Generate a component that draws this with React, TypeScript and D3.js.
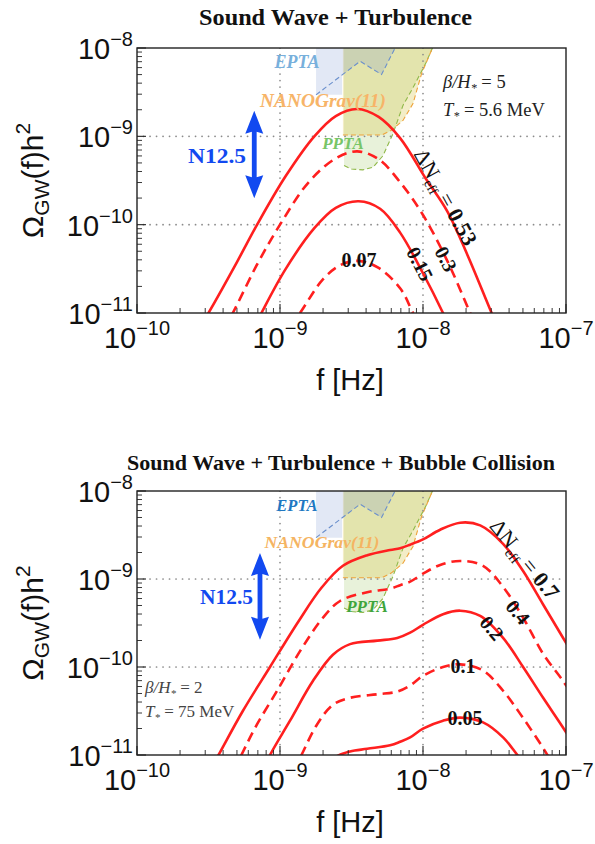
import React from "react";
import * as d3 from "d3";

const SANS = "'Liberation Sans', Arial, Helvetica, sans-serif";
const SERIF = "'Liberation Serif', 'Times New Roman', Times, serif";
const RED = "#ff1f1f";

// axes
const xDecades = [-10, -9, -8, -7];
const yDecades = [-11, -10, -9, -8];
const xTickExp = ["\u221210", "\u22129", "\u22128", "\u22127"];
const yTickExp = ["\u221211", "\u221210", "\u22129", "\u22128"];
const gridF = [-9, -8];
const gridOmega = [-10, -9];

// ---- top panel: Sound Wave + Turbulence  [log10 f, log10 Omega h^2]
const swtN053 = [[-9.70,-11.55],[-9.50,-11.0],[-9.30,-10.42],[-9.16,-10.0],[-8.96,-9.45],[-8.76,-9.0],[-8.61,-8.77],[-8.46,-8.69],[-8.31,-8.78],[-8.16,-9.02],[-7.98,-9.48],[-7.83,-9.85],[-7.69,-10.34],[-7.52,-11.0],[-7.40,-11.45]];
const swtN030 = [[-9.50,-11.5],[-9.33,-11.0],[-9.16,-10.45],[-9.0,-10.0],[-8.80,-9.52],[-8.61,-9.25],[-8.46,-9.17],[-8.31,-9.26],[-8.16,-9.52],[-8.0,-9.89],[-7.83,-10.41],[-7.67,-11.0],[-7.55,-11.45]];
const swtN015 = [[-9.30,-11.55],[-9.13,-11.0],[-8.96,-10.5],[-8.76,-10.04],[-8.61,-9.81],[-8.45,-9.735],[-8.30,-9.82],[-8.16,-10.09],[-8.0,-10.55],[-7.86,-11.0],[-7.72,-11.5]];
const swtN007 = [[-9.05,-11.45],[-8.86,-11.0],[-8.70,-10.62],[-8.58,-10.46],[-8.45,-10.41],[-8.31,-10.49],[-8.16,-10.72],[-8.07,-11.0],[-7.93,-11.5]];

// ---- bottom panel: Sound Wave + Turbulence + Bubble Collision
const swtbN07 = [[-9.60,-11.5],[-9.43,-11.0],[-9.26,-10.5],[-9.07,-10.0],[-8.87,-9.48],[-8.71,-9.10],[-8.56,-8.85],[-8.39,-8.73],[-8.23,-8.67],[-8.16,-8.65],[-8.09,-8.61],[-8.0,-8.55],[-7.88,-8.44],[-7.74,-8.36],[-7.60,-8.39],[-7.44,-8.60],[-7.30,-8.91],[-7.16,-9.29],[-7.02,-9.67],[-6.90,-10.0]];
const swtbN04 = [[-9.42,-11.5],[-9.27,-11.0],[-9.16,-10.65],[-9.02,-10.27],[-8.86,-9.82],[-8.70,-9.44],[-8.58,-9.25],[-8.39,-9.15],[-8.23,-9.11],[-8.16,-9.07],[-8.09,-9.03],[-8.0,-8.94],[-7.88,-8.84],[-7.74,-8.795],[-7.58,-8.85],[-7.44,-9.09],[-7.30,-9.44],[-7.16,-9.85],[-7.02,-10.16],[-6.90,-10.45]];
const swtbN02 = [[-9.22,-11.5],[-9.07,-11.0],[-8.93,-10.61],[-8.77,-10.16],[-8.63,-9.86],[-8.51,-9.74],[-8.32,-9.70],[-8.18,-9.67],[-8.09,-9.61],[-8.0,-9.52],[-7.86,-9.40],[-7.74,-9.36],[-7.60,-9.42],[-7.44,-9.67],[-7.30,-10.0],[-7.16,-10.35],[-7.02,-10.69],[-6.90,-11.0]];
const swtbN01 = [[-9.0,-11.5],[-8.85,-11.0],[-8.74,-10.65],[-8.63,-10.43],[-8.51,-10.35],[-8.32,-10.31],[-8.18,-10.28],[-8.09,-10.21],[-8.0,-10.10],[-7.86,-10.0],[-7.74,-9.97],[-7.58,-10.04],[-7.44,-10.27],[-7.30,-10.58],[-7.16,-10.92],[-7.13,-11.0],[-7.0,-11.35]];
const swtbN005 = [[-8.85,-11.6],[-8.74,-11.25],[-8.63,-11.04],[-8.51,-10.96],[-8.39,-10.93],[-8.23,-10.89],[-8.16,-10.85],[-8.09,-10.80],[-8.0,-10.70],[-7.86,-10.61],[-7.74,-10.575],[-7.58,-10.63],[-7.44,-10.80],[-7.34,-11.0],[-7.2,-11.3]];

// ---- PTA regions [log10 f, log10 Omega h^2]
const eptaRegion = [[-8.748,-7.5],[-8.748,-8.53],[-8.566,-8.53],[-8.566,-8.31],[-8.44,-8.15],[-8.29,-8.30],[-8.17,-7.92],[-8.15,-7.5]];
const eptaEdge = [[-8.748,-8.53],[-8.44,-8.15],[-8.29,-8.30],[-8.17,-7.92],[-8.15,-7.8]];
const nanoRegion = [[-8.56,-7.5],[-8.56,-8.985],[-8.287,-8.985],[-8.22,-8.93],[-8.14,-8.82],[-8.07,-8.63],[-8.01,-8.29],[-7.96,-8.1],[-7.92,-7.95],[-7.90,-7.5]];
const nanoEdge = [[-8.56,-8.985],[-8.287,-8.985],[-8.22,-8.93],[-8.14,-8.82],[-8.07,-8.63],[-8.01,-8.29],[-7.96,-8.1],[-7.92,-7.95],[-7.90,-7.8]];
const pptaRegion = [[-8.552,-7.5],[-8.552,-9.33],[-8.50,-9.37],[-8.42,-9.38],[-8.35,-9.35],[-8.28,-9.22],[-8.21,-8.97],[-8.14,-8.65],[-8.07,-8.45],[-7.98,-8.17],[-7.92,-7.95],[-7.90,-7.5]];
const pptaEdge = [[-8.552,-9.33],[-8.50,-9.37],[-8.42,-9.38],[-8.35,-9.35],[-8.28,-9.22],[-8.21,-8.97],[-8.14,-8.65],[-8.07,-8.45],[-7.98,-8.17],[-7.92,-7.95],[-7.90,-7.8]];

// NANOGrav 12.5 yr amplitude range arrow [log10 f, log10 Omega hi, log10 Omega lo]
const n125Top = [-9.18, -8.71, -9.70];
const n125Bottom = [-9.14, -8.705, -9.69];

const LEFT = 137;
const RIGHT = 566;

const xScale = d3.scaleLog().domain([1e-10, 1e-7]).range([LEFT, RIGHT]);

type CurveDef = { pts: number[][]; dashed: boolean };

function Panel(props: {
  id: string;
  top: number;
  bottom: number;
  curves: CurveDef[];
  arrow: number[];
  pta: { epta: string; nano: string; ppta: string };
  children?: React.ReactNode;
}) {
  const { id, top, bottom, curves, arrow } = props;
  const x = xScale;
  const y = d3.scaleLog().domain([1e-11, 1e-8]).range([bottom, top]);
  const P = (v: number) => Math.pow(10, v);
  const smooth = d3
    .line<number[]>()
    .x((d) => x(P(d[0])))
    .y((d) => y(P(d[1])))
    .curve(d3.curveCatmullRom.alpha(0.5));
  const lin = d3
    .line<number[]>()
    .x((d) => x(P(d[0])))
    .y((d) => y(P(d[1])));

  const minorX: number[] = [];
  [-10, -9, -8].forEach((d) => {
    for (let k = 2; k <= 9; k++) minorX.push(k * Math.pow(10, d));
  });
  const minorY: number[] = [];
  [-11, -10, -9].forEach((d) => {
    for (let k = 2; k <= 9; k++) minorY.push(k * Math.pow(10, d));
  });

  const ax = x(P(arrow[0]));
  const ayTop = y(P(arrow[1]));
  const ayBot = y(P(arrow[2]));
  const headL = 23;
  const headW = 9;
  const shaftW = 2.4;
  const arrowPath =
    `M${ax},${ayTop} L${ax + headW},${ayTop + headL} L${ax + shaftW},${ayTop + headL - 2} ` +
    `L${ax + shaftW},${ayBot - headL + 2} L${ax + headW},${ayBot - headL} L${ax},${ayBot} ` +
    `L${ax - headW},${ayBot - headL} L${ax - shaftW},${ayBot - headL + 2} L${ax - shaftW},${ayTop + headL - 2} ` +
    `L${ax - headW},${ayTop + headL} Z`;

  return (
    <g>
      <defs>
        <clipPath id={id}>
          <rect x={LEFT} y={top} width={RIGHT - LEFT} height={bottom - top} />
        </clipPath>
      </defs>
      <g clipPath={`url(#${id})`}>
        <path d={lin(pptaRegion)! + "Z"} fill="rgba(140,190,70,0.2)" />
        <path d={lin(nanoRegion)! + "Z"} fill="rgba(215,195,70,0.3)" />
        <path d={lin(eptaRegion)! + "Z"} fill="rgba(110,140,205,0.2)" />
        <path d={lin(pptaEdge)!} fill="none" stroke="#8fb848" strokeWidth={1.1} strokeDasharray="5,3" />
        <path d={lin(nanoEdge)!} fill="none" stroke="#eea33a" strokeWidth={1.1} strokeDasharray="5,3" />
        <path d={lin(eptaEdge)!} fill="none" stroke="#6a8fcc" strokeWidth={1.1} strokeDasharray="5,3" />
        {gridF.map((g) => (
          <line key={"gx" + g} x1={x(P(g))} x2={x(P(g))} y1={top} y2={bottom}
            stroke="#8a8a8a" strokeWidth={1.7} strokeDasharray="0.1,6.4" strokeLinecap="round" />
        ))}
        {gridOmega.map((g) => (
          <line key={"gy" + g} x1={LEFT} x2={RIGHT} y1={y(P(g))} y2={y(P(g))}
            stroke="#8a8a8a" strokeWidth={1.7} strokeDasharray="0.1,6.4" strokeLinecap="round" />
        ))}
        {curves.map((c, i) => (
          <path key={i} d={smooth(c.pts)!} fill="none" stroke={RED} strokeWidth={2.6}
            strokeDasharray={c.dashed ? "10,6" : undefined} />
        ))}
      </g>
      <text x={297} y={top + 20} textAnchor="middle" fontFamily={SERIF} fontWeight="bold"
        fontStyle="italic" fontSize={id === "cA" ? 18 : 16.5} fill={props.pta.epta}>EPTA</text>
      <text x={id === "cA" ? 323 : 322} y={id === "cA" ? 107 : 548} textAnchor="middle" fontFamily={SERIF}
        fontWeight="bold" fontStyle="italic" fontSize={id === "cA" ? 19 : 17.5}
        textLength={id === "cA" ? 126 : 115} lengthAdjust="spacingAndGlyphs" fill={props.pta.nano}>NANOGrav(11)</text>
      <text x={id === "cA" ? 343 : 367} y={id === "cA" ? 149 : 612} textAnchor="middle" fontFamily={SERIF}
        fontWeight="bold" fontStyle="italic" fontSize={17} fill={props.pta.ppta}>PPTA</text>
      <path d={arrowPath} fill="#1249f0" />
      <rect x={LEFT} y={top} width={RIGHT - LEFT} height={bottom - top} fill="none" stroke="#222" strokeWidth={1.4} />
      {xDecades.map((d) => (
        <line key={"tx" + d} x1={x(P(d))} x2={x(P(d))} y1={bottom} y2={bottom - 9} stroke="#222" strokeWidth={1.1} />
      ))}
      {minorX.map((v, i) => (
        <line key={"mx" + i} x1={x(v)} x2={x(v)} y1={bottom} y2={bottom - 5} stroke="#222" strokeWidth={0.9} />
      ))}
      {yDecades.map((d) => (
        <line key={"ty" + d} x1={LEFT} x2={LEFT + 9} y1={y(P(d))} y2={y(P(d))} stroke="#222" strokeWidth={1.1} />
      ))}
      {minorY.map((v, i) => (
        <line key={"my" + i} x1={LEFT} x2={LEFT + 5} y1={y(v)} y2={y(v)} stroke="#222" strokeWidth={0.9} />
      ))}
      {xDecades.map((d, i) => (
        <text key={"lx" + d} x={x(P(d))} y={bottom + 35} textAnchor="middle" fontFamily={SANS} fontSize={29} fill="#111">
          10<tspan fontSize={20} dy={-13}>{xTickExp[i]}</tspan>
        </text>
      ))}
      {yDecades.map((d, i) => (
        <text key={"ly" + d} x={133} y={y(P(d)) + 11} textAnchor="end" fontFamily={SANS} fontSize={29} fill="#111">
          10<tspan fontSize={20} dy={-13}>{yTickExp[i]}</tspan>
        </text>
      ))}
      <text transform={`translate(43,${(top + bottom) / 2}) rotate(-90)`} textAnchor="middle" fontFamily={SANS}
        fontSize={30} fill="#111">
        {"\u03A9"}<tspan fontSize={21} dy={6}>GW</tspan><tspan dy={-6}>(f)h</tspan><tspan fontSize={21} dy={-13}>2</tspan>
      </text>
      <text x={350} y={bottom + 77} textAnchor="middle" fontFamily={SANS} fontSize={29} fill="#111">f [Hz]</text>
      {props.children}
    </g>
  );
}

function DLabel(props: { x: number; y: number; rot: number; value: string; full?: boolean; size?: number }) {
  const fs = props.size || 20;
  return (
    <text transform={`translate(${props.x},${props.y}) rotate(${props.rot})`} textAnchor="middle" dy="0.35em"
      fontFamily={SERIF} fontSize={fs} fill="#111">
      {props.full ? (
        <>
          {"\u0394N"}
          <tspan fontSize={fs * 0.62} dy={5}>eff</tspan>
          <tspan dy={-5}>{" = "}</tspan>
          <tspan fontWeight="bold">{props.value}</tspan>
        </>
      ) : (
        <tspan fontWeight="bold">{props.value}</tspan>
      )}
    </text>
  );
}

export default function App() {
  const topCurves: CurveDef[] = [
    { pts: swtN053, dashed: false },
    { pts: swtN030, dashed: true },
    { pts: swtN015, dashed: false },
    { pts: swtN007, dashed: true },
  ];
  const botCurves: CurveDef[] = [
    { pts: swtbN07, dashed: false },
    { pts: swtbN04, dashed: true },
    { pts: swtbN02, dashed: false },
    { pts: swtbN01, dashed: true },
    { pts: swtbN005, dashed: false },
  ];
  return (
    <svg width={595} height={844} viewBox="0 0 595 844" style={{ position: "absolute", left: 0, top: 0, background: "#fff" }}>
      <rect x={0} y={0} width={595} height={844} fill="#fff" />
      <text x={335.5} y={25} textAnchor="middle" fontFamily={SERIF} fontWeight="bold" fontSize={24}
        textLength={273} lengthAdjust="spacingAndGlyphs" fill="#111">Sound Wave + Turbulence</text>
      <Panel id="cA" top={48} bottom={313} curves={topCurves} arrow={n125Top}
        pta={{ epta: "#78b0dc", nano: "#f7b468", ppta: "#78c568" }}>
        <text x={217} y={163} textAnchor="middle" fontFamily={SERIF} fontWeight="bold" fontSize={22}
          textLength={58} lengthAdjust="spacingAndGlyphs" fill="#1249f0">N12.5</text>
        <text x={443} y={88} fontFamily={SERIF} fontSize={18.5} fill="#222">
          <tspan fontStyle="italic">{"\u03B2/H"}</tspan><tspan fontSize={12} dy={4} fontStyle="italic">*</tspan>
          <tspan dy={-4}>{" = 5"}</tspan>
        </text>
        <text x={443} y={116} fontFamily={SERIF} fontSize={18.5} fill="#222">
          <tspan fontStyle="italic">T</tspan><tspan fontSize={12} dy={4} fontStyle="italic">*</tspan>
          <tspan dy={-4}>{" = 5.6 MeV"}</tspan>
        </text>
        <DLabel x={446} y={197} rot={61} value="0.53" full size={22} />
        <DLabel x={446} y={259} rot={63} value="0.3" />
        <DLabel x={420} y={264} rot={63} value="0.15" />
        <DLabel x={359} y={260} rot={0} value="0.07" />
      </Panel>
      <text x={341} y={470} textAnchor="middle" fontFamily={SERIF} fontWeight="bold" fontSize={21}
        textLength={428} lengthAdjust="spacingAndGlyphs" fill="#111">Sound Wave + Turbulence + Bubble Collision</text>
      <Panel id="cB" top={491} bottom={755} curves={botCurves} arrow={n125Bottom}
        pta={{ epta: "#2178c2", nano: "#f5b462", ppta: "#3fa53c" }}>
        <text x={226.5} y={604} textAnchor="middle" fontFamily={SERIF} fontWeight="bold" fontSize={21}
          textLength={53} lengthAdjust="spacingAndGlyphs" fill="#1249f0">N12.5</text>
        <text x={145} y={693} fontFamily={SERIF} fontSize={17} fill="#444">
          <tspan fontStyle="italic">{"\u03B2/H"}</tspan><tspan fontSize={11} dy={4} fontStyle="italic">*</tspan>
          <tspan dy={-4}>{" = 2"}</tspan>
        </text>
        <text x={145} y={717} fontFamily={SERIF} fontSize={17} fill="#444">
          <tspan fontStyle="italic">T</tspan><tspan fontSize={11} dy={4} fontStyle="italic">*</tspan>
          <tspan dy={-4}>{" = 75 MeV"}</tspan>
        </text>
        <DLabel x={525} y={559} rot={51} value="0.7" full size={22} />
        <DLabel x={518} y={612} rot={50} value="0.4" />
        <DLabel x={492} y={628} rot={50} value="0.2" />
        <DLabel x={463} y={666} rot={0} value="0.1" />
        <DLabel x={465} y={718} rot={0} value="0.05" />
      </Panel>
    </svg>
  );
}
